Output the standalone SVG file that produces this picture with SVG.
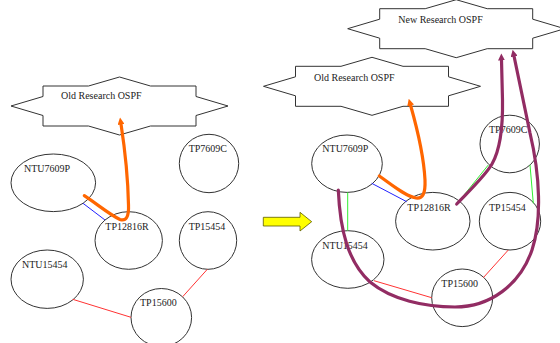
<svg xmlns="http://www.w3.org/2000/svg" xmlns:xlink="http://www.w3.org/1999/xlink" width="560" height="343" viewBox="0 0 560 343">
  <style>
    .node { fill: none; stroke: #333; stroke-width: 1; }
    .area { fill: #fff; stroke: #333; stroke-width: 1; }
    .lbl { font-family: "Liberation Serif", "Times New Roman", serif; font-size: 10px; fill: #222; }
    .link { fill: none; stroke-width: 1; }
    .blue { stroke: #2222ff; }
    .red { stroke: #ff3333; }
    .green { stroke: #33ee33; }
    .orange { fill: none; stroke: #ff6600; stroke-width: 3.2; stroke-linecap: round; }
    .purple { fill: none; stroke: #922c63; stroke-width: 3.2; stroke-linecap: round; }
  </style>
  <defs>
    <!-- eight-point area outline centred on 0,0 -->
    <path id="star" d="M-31,-20 L0,-29 L31,-20 L76.5,-20 L76.5,-9.5 L108.5,0 L76.5,9.5 L76.5,20 L31,20 L0,29 L-31,20 L-76.5,20 L-76.5,9.5 L-108.5,0 L-76.5,-9.5 L-76.5,-20 Z"/>
    <marker id="headOrange" viewBox="0 0 7 7" markerWidth="7" markerHeight="7" refX="0.5" refY="3.5" orient="auto" markerUnits="userSpaceOnUse">
      <path d="M0,0 L7,3.5 L0,7 Z" fill="#ff6600"/>
    </marker>
    <marker id="headPurple" viewBox="0 0 7 7" markerWidth="7" markerHeight="7" refX="0.5" refY="3.5" orient="auto" markerUnits="userSpaceOnUse">
      <path d="M0,0 L7,3.5 L0,7 Z" fill="#922c63"/>
    </marker>
  </defs>

  <rect width="560" height="343" fill="#fff"/>

  <!-- areas -->
  <g id="old-area-left">
    <use xlink:href="#star" href="#star" class="area" transform="translate(119.5,106)"/>
    <text class="lbl" x="61" y="99.3">Old Research OSPF</text>
  </g>
  <g id="old-area-right">
    <use xlink:href="#star" href="#star" class="area" transform="translate(372,86.3)"/>
    <text class="lbl" x="314" y="80.5">Old Research OSPF</text>
  </g>
  <g id="new-area">
    <use xlink:href="#star" href="#star" class="area" transform="translate(456.2,28.7)"/>
    <text class="lbl" x="398.3" y="23.3">New Research OSPF</text>
  </g>

  <!-- routers, before -->
  <g id="a-NTU7609P"><ellipse class="node" cx="53.3" cy="182.8" rx="42.3" ry="28.8"/><text class="lbl" x="24" y="171.7">NTU7609P</text></g>
  <g id="a-TP7609C"><ellipse class="node" cx="209" cy="163.5" rx="29.7" ry="29.2"/><text class="lbl" x="188.7" y="152.3">TP7609C</text></g>
  <g id="a-TP12816R"><ellipse class="node" cx="128.7" cy="240.5" rx="33.7" ry="28.8"/><text class="lbl" x="105.3" y="229.5">TP12816R</text></g>
  <g id="a-TP15454"><ellipse class="node" cx="208" cy="240.5" rx="28.7" ry="28.8"/><text class="lbl" x="188.7" y="229.5">TP15454</text></g>
  <g id="a-NTU15454"><ellipse class="node" cx="47.2" cy="279.2" rx="36.2" ry="29.2"/><text class="lbl" x="22" y="268.3">NTU15454</text></g>
  <g id="a-TP15600"><ellipse class="node" cx="161.3" cy="317.5" rx="30.3" ry="29"/><text class="lbl" x="140" y="305.7">TP15600</text></g>

  <!-- routers, after -->
  <g id="b-NTU7609P"><ellipse class="node" cx="347" cy="163.7" rx="35.3" ry="28.7"/><text class="lbl" x="322.3" y="151.7">NTU7609P</text></g>
  <g id="b-TP7609C"><ellipse class="node" cx="509.7" cy="144" rx="29.7" ry="28.8"/><text class="lbl" x="489" y="133.3">TP7609C</text></g>
  <g id="b-TP12816R"><ellipse class="node" cx="432.8" cy="221.2" rx="37.2" ry="28.8"/><text class="lbl" x="407.3" y="210.7">TP12816R</text></g>
  <g id="b-TP15454"><ellipse class="node" cx="510" cy="221.2" rx="30.7" ry="28.8"/><text class="lbl" x="489" y="210.7">TP15454</text></g>
  <g id="b-NTU15454"><ellipse class="node" cx="347.8" cy="259.5" rx="36.2" ry="28.8"/><text class="lbl" x="322.3" y="248.7">NTU15454</text></g>
  <g id="b-TP15600"><ellipse class="node" cx="462.2" cy="297.8" rx="30.5" ry="28.8"/><text class="lbl" x="441.3" y="287.3">TP15600</text></g>

  <!-- transition arrow -->
  <g id="transition">
    <polygon points="263.3,217.3 300,217.3 300,212.3 311.7,221.7 300,231 300,226 263.3,226" fill="#ffff00" stroke="#5a5a00" stroke-width="0.8"/>
  </g>

  <g id="connectors">
    <!-- links, before -->
    <line class="link blue" x1="83" y1="203.3" x2="105" y2="220"/>
    <line class="link red" x1="72.7" y1="299.3" x2="131" y2="317.3"/>
    <line class="link red" x1="182.7" y1="296.7" x2="207.3" y2="269.3"/>
    <!-- links, after -->
    <line class="link green" x1="347.7" y1="192.3" x2="347.7" y2="230.7"/>
    <line class="link blue" x1="371.7" y1="183.3" x2="406.7" y2="201.7"/>
    <line class="link green" x1="460" y1="200" x2="488.3" y2="165"/>
    <line class="link green" x1="530" y1="165" x2="533.3" y2="203.3"/>
    <line class="link red" x1="374" y1="280.7" x2="431.7" y2="297.7"/>
    <line class="link red" x1="483.3" y1="277.7" x2="508.3" y2="250"/>
    <!-- routes into the areas -->
    <path class="orange" marker-end="url(#headOrange)" d="M84.3,195.7 C97,204 110,215 120,219.5 C126,221.5 129,217 128.5,205 C128,180 125,150 121,124"/>
    <path class="orange" marker-end="url(#headOrange)" d="M379.3,176 C392,185 405,196 416,198 C423,199 425.5,193 425,180 C424,160 419,135 410.5,105"/>
    <path class="purple" marker-end="url(#headPurple)" d="M456.7,204 C470,190 485,176 492,164 C500,150 503,130 502.5,100 L501.5,60"/>
    <path class="purple" marker-end="url(#headPurple)" d="M338.3,190 C340,230 348,262 370,282 C392,300 425,307 455,307 C490,307 520,285 532,250 C542,220 540,175 530,133 L514,56"/>
  </g>
</svg>
